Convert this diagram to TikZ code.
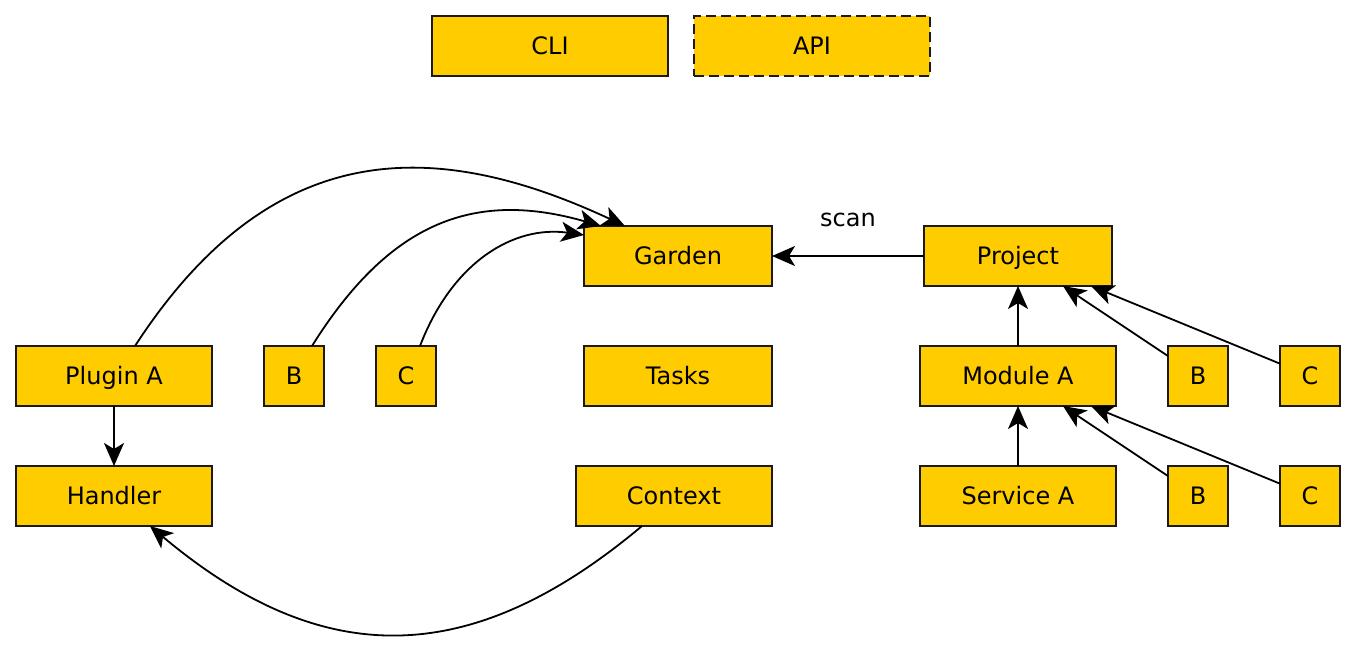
\documentclass[tikz,border=0pt]{standalone}
\usepackage{fontspec}
\setmainfont{DejaVu Sans}
\usepackage{tikz}
\usetikzlibrary{arrows.meta, positioning}
\definecolor{boxfill}{HTML}{FFCC00}
\definecolor{boxline}{HTML}{1A1A1A}
\tikzset{box/.style={rectangle,draw=boxline,fill=boxfill,line width=0.9pt,outer sep=0pt,align=center,inner sep=0pt,minimum width=94pt,minimum height=30pt,text height=11.25pt,text depth=2.5pt,font=\fontsize{12}{14}\selectfont},wide/.style={minimum width=98pt},sq/.style={minimum width=30pt},line/.style={-{Stealth[length=11.5pt,width=10pt,inset=3pt]},line width=0.9pt}}

\begin{document}
\begin{tikzpicture}[x=0.5pt, y=0.5pt]
\useasboundingbox (0,0) rectangle (1356,-652);
\node[box, minimum width=118pt] (cli) at (550,-46) {CLI};
\node[box, minimum width=118pt, dash pattern=on 5pt off 2.5pt, right=13pt of cli] (api) {API};
\node[box] (garden) at (678,-256) {Garden};
\node[box, right=76pt of garden] (project) {Project};
\node[box, below=30pt of garden] (tasks) {Tasks};
\node[box, wide, below=30pt of project] (modA) {Module A};
\node[box, sq, right=26pt of modA] (modB) {B};
\node[box, sq, right=26pt of modB] (modC) {C};
\node[box, wide, below=30pt of modA] (svcA) {Service A};
\node[box, sq, right=26pt of svcA] (svcB) {B};
\node[box, sq, right=26pt of svcB] (svcC) {C};
\node[box, wide] (plugA) at (114,-376) {Plugin A};
\node[box, sq, right=26pt of plugA] (plugB) {B};
\node[box, sq, right=26pt of plugB] (plugC) {C};
\node[box, wide, below=30pt of plugA] (handler) {Handler};
\node[box, wide] (context) at (674,-496) {Context};
% plugins
\draw[line] (plugA) -- (handler);
\draw[line] ([xshift=10.5pt]plugA.north) to[out=57, in=155, out looseness=1.27, in looseness=1.07] ([xshift=-26.5pt]garden.north);
\draw[line] ([xshift=9pt]plugB.north) to[out=58, in=164, out looseness=1.22, in looseness=1.06] ([xshift=-38.5pt]garden.north);
\draw[line] ([xshift=7pt]plugC.north) to[out=69, in=172, out looseness=1.17, in looseness=0.91] ([yshift=10.5pt]garden.west);
\draw[line] ([xshift=-16pt]context.south) to[out=-140, in=-40, looseness=1.17] ([xshift=18pt]handler.south);
% project side
\draw[line] (project) -- node[midway, above=14pt, inner sep=0pt, font=\fontsize{12}{14}\selectfont] (scan) {scan} (garden);
\draw[line] (modA) -- (project);
\draw[line] (modB) -- (project);
\draw[line] (modC) -- (project);
\draw[line] (svcA) -- (modA);
\draw[line] (svcB) -- (modA);
\draw[line] (svcC) -- (modA);
\end{tikzpicture}
\end{document}
